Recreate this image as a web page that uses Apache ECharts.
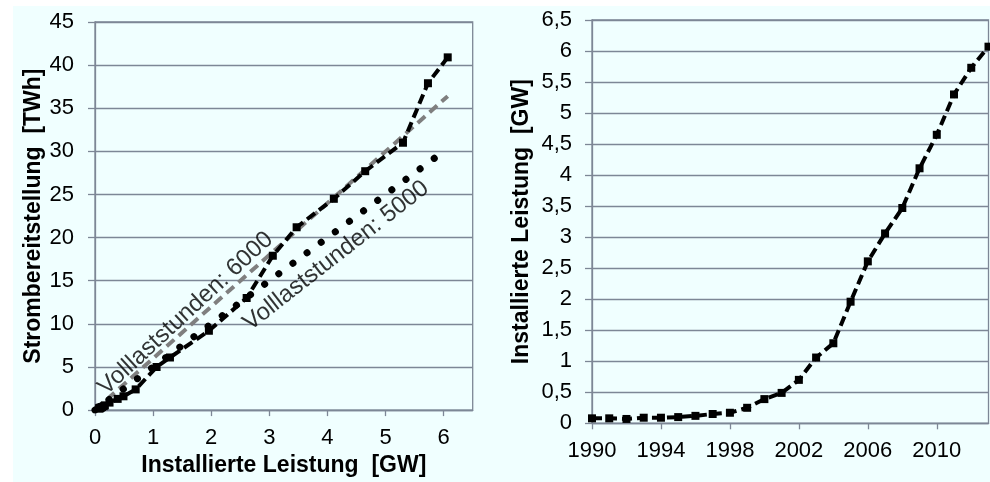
<!DOCTYPE html>
<html>
<head>
<meta charset="utf-8">
<script src="https://cdn.jsdelivr.net/npm/echarts@6/dist/echarts.min.js"></script>
<style>
html,body{margin:0;padding:0;background:#ffffff;}
#chart{width:990px;height:482px;}
</style>
</head>
<body>
<div id="chart"></div>
<script>
// ---- data ----
const years = ['1990','1991','1992','1993','1994','1995','1996','1997','1998','1999','2000','2001','2002','2003','2004','2005','2006','2007','2008','2009','2010','2011','2012','2013'];
const capacityGW = [0.08,0.08,0.07,0.09,0.09,0.10,0.12,0.15,0.17,0.25,0.39,0.49,0.70,1.06,1.29,1.96,2.61,3.06,3.47,4.11,4.65,5.30,5.73,6.07];
const generationTWh = [0.20,0.22,0.20,0.25,0.27,0.30,0.35,0.45,0.55,0.87,1.30,1.60,2.40,5.00,6.10,9.20,13.00,17.90,21.20,24.50,27.70,31.00,37.90,40.90];
const line6000 = [[0,0],[6.07,36.4]];
const line5000 = [[0,0],[5.95,29.75]];
const labelTexts = ['Volllaststunden: 6000','Volllaststunden: 5000'];
const labelAnchors = [[1.56,11.2],[4.15,17.9]];
const xTicksLeft = [0,1,2,3,4,5,6];

const pairs = capacityGW.map((c,i)=>[c, generationTWh[i]]);

const gridColor = '#7d8796';
const font = '"Liberation Sans", Arial, sans-serif';
const tickSize = 22;
const titleSize = 23;

const chart = echarts.init(document.getElementById('chart'), null, {renderer:'canvas'});
const option = {
  animation:false,
  backgroundColor:'#ffffff',
  textStyle:{fontFamily:font},
  graphic:[{type:'rect', z:-100, silent:true, shape:{x:13,y:6,width:977,height:476}, style:{fill:'#F0FFFF'}}],
  grid:[
    {left:95, top:22, width:377.7, height:402.5, show:true, borderColor:gridColor, borderWidth:1.3, backgroundColor:'transparent'},
    {left:592, top:20, width:396.5, height:403.3, show:true, borderColor:gridColor, borderWidth:1.3, backgroundColor:'transparent'}
  ],
  xAxis:[
    {gridIndex:0, type:'value', min:0, max:6.5, interval:1,
     axisLine:{show:true, onZero:false, lineStyle:{color:gridColor,width:1.3}},
     axisTick:{show:true, length:6, customValues:xTicksLeft, lineStyle:{color:gridColor,width:1.3}},
     axisLabel:{customValues:xTicksLeft, fontSize:tickSize, color:'#000', margin:17, fontFamily:font},
     splitLine:{show:false},
     name:'Installierte Leistung  [GW]', nameLocation:'middle', nameGap:33,
     nameTextStyle:{fontWeight:'bold', fontSize:titleSize, color:'#000', fontFamily:font}},
    {gridIndex:1, type:'category', data:years, boundaryGap:false,
     axisLine:{show:true, lineStyle:{color:gridColor,width:1.3}},
     axisTick:{show:true, interval:3, length:6, lineStyle:{color:gridColor,width:1.3}},
     axisLabel:{interval:3, fontSize:tickSize, color:'#000', margin:17, fontFamily:font},
     splitLine:{show:false}}
  ],
  yAxis:[
    {gridIndex:0, type:'value', min:0, max:45, interval:5,
     axisLine:{show:true, lineStyle:{color:gridColor,width:1.3}},
     axisTick:{show:true, length:7, lineStyle:{color:gridColor,width:1.3}},
     axisLabel:{fontSize:tickSize, color:'#000', margin:21, fontFamily:font},
     splitLine:{show:true, lineStyle:{color:gridColor,width:1.3}},
     name:'Strombereitstellung  [TWh]', nameLocation:'middle', nameGap:50, nameRotate:90,
     nameTextStyle:{fontWeight:'bold', fontSize:titleSize, color:'#000', fontFamily:font}},
    {gridIndex:1, type:'value', min:0, max:6.5, interval:0.5,
     axisLine:{show:true, lineStyle:{color:gridColor,width:1.3}},
     axisTick:{show:true, length:7, lineStyle:{color:gridColor,width:1.3}},
     axisLabel:{fontSize:tickSize, color:'#000', margin:20, fontFamily:font,
       formatter:v=>String(v).replace('.',',')},
     splitLine:{show:true, lineStyle:{color:gridColor,width:1.3}},
     name:'Installierte Leistung  [GW]', nameLocation:'middle', nameGap:59, nameRotate:90,
     nameTextStyle:{fontWeight:'bold', fontSize:titleSize, color:'#000', fontFamily:font}}
  ],
  series:[
    {type:'line', xAxisIndex:0, yAxisIndex:0, data:line6000, showSymbol:false, symbol:'none',
     lineStyle:{color:'#7f7f7f', width:4, type:[10,6]}, z:2},
    {type:'line', xAxisIndex:0, yAxisIndex:0, data:line5000, showSymbol:false, symbol:'none',
     lineStyle:{color:'#000', width:7, type:[0.1,17.5], cap:'round'}, z:3},
    {type:'line', xAxisIndex:0, yAxisIndex:0, data:pairs, symbol:'rect', symbolSize:8,
     itemStyle:{color:'#000'}, lineStyle:{color:'#000', width:4, type:[10,5]}, z:4},
    {type:'scatter', xAxisIndex:0, yAxisIndex:0, symbolSize:1, itemStyle:{color:'rgba(0,0,0,0)'}, z:5,
     data:labelAnchors.map((p,i)=>({value:p,
       label:{show:true, position:'inside', formatter:labelTexts[i], rotate:i===0?42.7:38,
              fontSize:24, color:'#000', textBorderWidth:0, fontFamily:font}}))},
    {type:'line', xAxisIndex:1, yAxisIndex:1, data:capacityGW, symbol:'rect', symbolSize:8,
     itemStyle:{color:'#000'}, lineStyle:{color:'#000', width:4, type:[10,5]}, z:4}
  ]
};
chart.setOption(option);
</script>
</body>
</html>
